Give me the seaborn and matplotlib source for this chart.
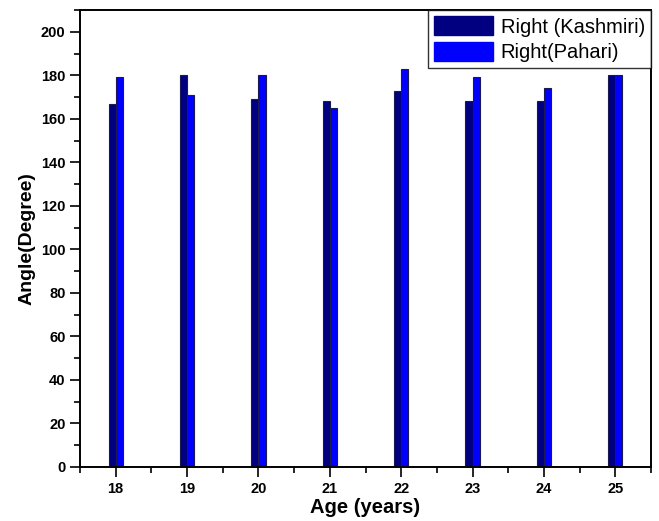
import matplotlib
matplotlib.use("Agg")
import matplotlib.pyplot as plt
import seaborn as sns
import pandas as pd
from matplotlib.ticker import MultipleLocator
from matplotlib.patches import Patch

ages = [18, 19, 20, 21, 22, 23, 24, 25]
kashmiri = [167, 180, 169, 168, 173, 168, 168, 180]
pahari = [179, 171, 180, 165, 183, 179, 174, 180]
series_names = ["Right (Kashmiri)", "Right(Pahari)"]
colors = ["#000080", "#0000FF"]

df = pd.DataFrame({
    "Age": ages * 2,
    "Angle": kashmiri + pahari,
    "Group": [series_names[0]] * len(ages) + [series_names[1]] * len(ages),
})

sns.set_theme(style="ticks")
plt.rcParams["font.family"] = ["Liberation Sans", "DejaVu Sans"]
plt.rcParams["text.color"] = "black"
plt.rcParams["axes.labelcolor"] = "black"

fig = plt.figure(figsize=(6.59, 5.21), dpi=100)
ax = fig.add_axes([80 / 659, 54 / 521, 571 / 659, 457 / 521])

sns.barplot(
    data=df, x="Age", y="Angle", hue="Group", native_scale=True,
    palette=dict(zip(series_names, colors)), saturation=1,
    width=0.2, edgecolor="#1a1a50", linewidth=0.8, errorbar=None,
    ax=ax, legend=False,
)

ax.set_xlim(17.5, 25.5)
ax.set_ylim(0, 210)
ax.xaxis.set_major_locator(MultipleLocator(1))
ax.xaxis.set_minor_locator(MultipleLocator(0.5))
ax.yaxis.set_major_locator(MultipleLocator(20))
ax.yaxis.set_minor_locator(MultipleLocator(10))
ax.set_xticks(ages)
ax.set_xticklabels([str(a) for a in ages])

for s in ax.spines.values():
    s.set_visible(True)
    s.set_linewidth(1.4)
    s.set_color("black")

ax.tick_params(axis="both", which="major", direction="out", length=7, width=1.2,
               labelsize=10.5, colors="black", top=False, right=False)
ax.tick_params(axis="both", which="minor", direction="out", length=4, width=1.2,
               colors="black", top=False, right=False)
for lab in ax.get_xticklabels() + ax.get_yticklabels():
    lab.set_fontweight("bold")

ax.set_xlabel("Age (years)", fontsize=14.5, fontweight="bold", labelpad=2, color="black")
ax.set_ylabel("Angle(Degree)", fontsize=14, fontweight="bold", labelpad=4, color="black")
ax.grid(False)

handles = [Patch(facecolor=c, edgecolor=c) for c in colors]
leg = ax.legend(handles, series_names, loc="upper right", fontsize=14.5,
                frameon=True, fancybox=False, edgecolor="black",
                borderaxespad=0.0, handlelength=2.9, handleheight=1.1,
                handletextpad=0.4, labelspacing=0.25, borderpad=0.3)
leg.get_frame().set_linewidth(1.0)
for t in leg.get_texts():
    t.set_color("black")

fig.savefig("out.png", dpi=100)
